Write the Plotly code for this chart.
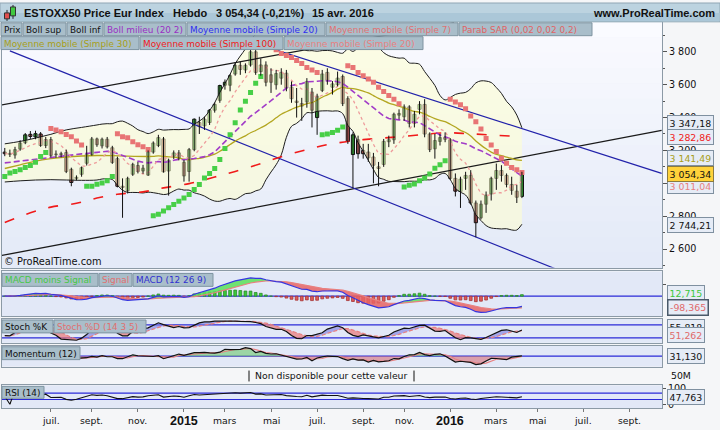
import numpy as np
import pandas as pd
import plotly.graph_objects as go

W, H = 720, 430
FONT = "DejaVu Sans, Verdana, sans-serif"
HFONT = "Liberation Sans, Arial, sans-serif"
FS = 8.9

# ---------------- data (weekly candles) ----------------
first_week = "2014-05-05"
opens = [3190, 3182, 3172, 3208, 3247, 3298, 3282, 3300, 3230, 3266,
         3174, 3180, 3187, 3085, 3030, 3055, 3122, 3175, 3270, 3228,
         3268, 3216, 3150, 2982, 2955, 3055, 3108, 3075, 3050, 3190,
         3230, 3270, 3075, 3165, 3185, 3128, 3072, 3205, 3370, 3350,
         3370, 3445, 3505, 3597, 3597, 3665, 3718, 3690, 3720, 3800,
         3680, 3720, 3660, 3600, 3640, 3670, 3585, 3500, 3485, 3495,
         3555, 3400, 3565, 3675, 3585, 3600, 3650, 3515, 3175, 3265,
         3200, 3190, 3160, 3100, 3115, 3253, 3265, 3415, 3405, 3465,
         3365, 3450, 3480, 3300, 3210, 3255, 3280, 3265, 3030, 2950,
         3030, 3048, 2880, 2790, 2873, 2935, 3030, 3078, 3048, 2993,
         2952, 2920]
highs = [3215, 3205, 3222, 3262, 3306, 3318, 3320, 3312, 3282, 3282,
         3200, 3192, 3205, 3095, 3048, 3102, 3228, 3282, 3278, 3278,
         3282, 3228, 3162, 3030, 3040, 3125, 3130, 3112, 3200, 3255,
         3295, 3282, 3150, 3200, 3202, 3142, 3215, 3395, 3405, 3405,
         3452, 3492, 3600, 3632, 3665, 3735, 3740, 3730, 3822, 3842,
         3760, 3742, 3700, 3690, 3700, 3690, 3620, 3580, 3520, 3640,
         3580, 3545, 3690, 3700, 3622, 3680, 3662, 3530, 3310, 3290,
         3240, 3240, 3185, 3130, 3270, 3290, 3430, 3450, 3480, 3475,
         3440, 3500, 3512, 3310, 3300, 3300, 3310, 3275, 3060, 3040,
         3070, 3080, 2895, 2895, 2950, 3040, 3120, 3110, 3060, 3040,
         2990, 3070]
lows = [3165, 3160, 3150, 3198, 3238, 3270, 3268, 3222, 3214, 3158,
        3155, 3158, 3062, 2982, 3018, 3040, 3108, 3168, 3222, 3212,
        3212, 3118, 2975, 2790, 2938, 3045, 3060, 3058, 3045, 3180,
        3220, 3065, 2925, 3148, 3140, 3010, 3010, 3195, 3300, 3325,
        3355, 3430, 3490, 3570, 3560, 3655, 3660, 3670, 3710, 3660,
        3655, 3590, 3550, 3570, 3600, 3560, 3490, 3400, 3380, 3460,
        3340, 3295, 3555, 3600, 3540, 3590, 3470, 3240, 2970, 3150,
        3150, 3130, 3000, 2982, 3100, 3220, 3240, 3390, 3380, 3340,
        3340, 3420, 3280, 3190, 3150, 3230, 3250, 3020, 2920, 2850,
        2960, 2870, 2672, 2780, 2820, 2895, 2960, 3010, 2975, 2930,
        2880, 2910]
closes = [3180, 3176, 3205, 3245, 3295, 3285, 3302, 3230, 3266, 3170,
          3178, 3175, 3072, 3005, 3036, 3095, 3175, 3270, 3235, 3268,
          3222, 3127, 2982, 2975, 3030, 3115, 3072, 3092, 3190, 3245,
          3278, 3070, 3140, 3185, 3150, 3045, 3205, 3390, 3345, 3390,
          3445, 3480, 3595, 3615, 3655, 3718, 3693, 3718, 3800, 3675,
          3720, 3615, 3615, 3668, 3675, 3580, 3515, 3492, 3470, 3620,
          3445, 3530, 3665, 3627, 3605, 3640, 3485, 3255, 3295, 3180,
          3180, 3155, 3110, 3090, 3255, 3265, 3420, 3425, 3465, 3365,
          3420, 3480, 3300, 3205, 3260, 3278, 3268, 3030, 2952, 3025,
          3048, 2880, 2760, 2873, 2928, 3030, 3078, 3048, 2993, 2957,
          2915, 3054.34]

# Parabolic SAR (0,02 0,02 0,2) dots, one per week
sar_values = [3042, 3062, 3072, 3082, 3096, 3108, 3128, 3163, 3187,
              3333, 3324, 3313, 3297, 3283, 3257, 3233,
              2982, 2982, 2994, 3002, 3016, 3042,
              3301, 3283, 3277, 3253, 3235, 3223, 3205,
              2802, 2811, 2831, 2851, 2871, 2891, 2911, 2932, 2962, 2992, 3032,
              3060, 3090, 3145, 3211, 3295, 3368, 3446, 3500, 3552, 3609, 3650,
              3842, 3831, 3812, 3790, 3778, 3766, 3748, 3729, 3705, 3690, 3675,
              3295, 3300, 3309, 3323, 3343,
              3716, 3705, 3675, 3655, 3635, 3615, 3585, 3559, 3535, 3511, 3484,
              2978, 2988, 2996, 3016, 3032, 3056, 3092, 3113, 3137,
              3512, 3494, 3478, 3454, 3410, 3375, 3330, 3273, 3233, 3193, 3152,
              3122, 3096, 3082, 3066]

# indicator values visible before their window is filled (keyed by week index)
boll_up_early = {0: 3240, 3: 3255, 6: 3275, 9: 3298, 12: 3325, 15: 3340, 18: 3355}
boll_lo_early = {0: 3008, 3: 3015, 6: 3020, 9: 3022, 12: 3020, 15: 3018, 18: 3020}
boll_mid_early = {0: 3124, 3: 3135, 6: 3148, 9: 3160, 12: 3172, 15: 3179, 18: 3188}
sma30_early = {0: 3090, 3: 3112, 6: 3135, 9: 3150, 12: 3160, 15: 3166, 18: 3169, 21: 3168, 24: 3165, 28: 3163}
sma100_read = {0: 2762, 5: 2820, 9: 2855, 14: 2878, 18: 2910, 22: 2933, 27: 2948, 31: 2972,
               36: 2998, 41: 3038, 45: 3072, 50: 3120, 54: 3162, 59: 3205, 63: 3235, 68: 3259,
               72: 3271, 77: 3283, 86: 3307, 91: 3301, 101: 3283}

# trend lines (date, value) pairs
trend_black_top = (["2014-04-28", "2016-01-09"], [3474, 3976])
trend_black_bottom = (["2014-04-28", "2016-10-19"], [2558, 3322])
trend_blue_steep = (["2014-05-12", "2016-05-26"], [3806, 2481])
trend_blue_flat = (["2015-04-05", "2016-10-19"], [3863, 3060])

price_ticks = [2600, 2800, 3000, 3200, 3400, 3600, 3800]
price_ticktext = ["2 600", "2 800", "3 000", "3 200", "3 400", "3 600", "3 800"]
price_minor = [2500, 2700, 2900, 3100, 3300, 3500, 3700, 3900]

month_ticks = ["2014-07-07", "2014-09-01", "2014-11-03", "2015-01-05", "2015-03-02", "2015-05-04",
               "2015-07-06", "2015-09-07", "2015-11-02", "2016-01-04", "2016-03-07", "2016-05-02",
               "2016-07-04", "2016-09-05"]
month_labels = ["juil.", "sept.", "nov.", "2015", "mars", "mai", "juil.", "sept.", "nov.",
                "2016", "mars", "mai", "juil.", "sept."]

last_labels = {"boll_up": "3 347,18", "sma100": "3 282,86", "sma30": "3 141,49", "close": "3 054,34",
               "sma7": "3 011,04", "boll_lo": "2 744,21"}
last_values = {"boll_up": 3347.18, "sma100": 3282.86, "sma30": 3141.49, "close": 3054.34,
               "sma7": 3011.04, "boll_lo": 2744.21}
macd_hist_last, macd_sig_last = 12.715, -98.365
stoch_k_last, stoch_d_last = 55.818, 51.262
mom_last, rsi_last = 31.130, 47.763

# ---------------- computations ----------------
n = len(closes)
dates = pd.date_range(first_week, periods=n, freq="7D")
O = np.array(opens, float)
Hh = np.array(highs, float)
L = np.array(lows, float)
C = np.array(closes, float)
cs = pd.Series(C)

sma20 = cs.rolling(20).mean()
sd20 = cs.rolling(20).std(ddof=0)
bb_up = sma20 + 2 * sd20
bb_lo = sma20 - 2 * sd20
sma30 = cs.rolling(30).mean()
sma7 = cs.rolling(7, min_periods=1).mean()


def joined(early, computed, start):
    keys = sorted(early)
    idx = keys + list(range(start, n))
    vals = [early[k] for k in keys] + list(computed.values[start:])
    return dates[idx], vals


sar = np.array(sar_values, float)
sar_below = sar < C

ema12 = cs.ewm(span=12, adjust=False).mean()
ema26 = cs.ewm(span=26, adjust=False).mean()
macd = (ema12 - ema26).values
signal = pd.Series(macd).ewm(span=9, adjust=False).mean().values
hist = macd - signal

hs, ls = pd.Series(Hh), pd.Series(L)
ll14 = ls.rolling(14, min_periods=1).min()
hh14 = hs.rolling(14, min_periods=1).max()
rawk = 100 * (cs - ll14) / (hh14 - ll14)
stk = rawk.rolling(3, min_periods=1).mean().values
std_ = pd.Series(stk).rolling(5, min_periods=1).mean().values

mom = (cs - cs.shift(12)).values
mom_sig = pd.Series(mom).rolling(3, min_periods=1).mean().values

delta = cs.diff()
gain = delta.clip(lower=0).fillna(0)
loss = (-delta.clip(upper=0)).fillna(0)
ag = gain.ewm(alpha=1 / 14, adjust=False).mean()
al = loss.ewm(alpha=1 / 14, adjust=False).mean()
rsi = (100 - 100 / (1 + ag / al.replace(0, np.nan))).fillna(50).values

# ---------------- figure ----------------
fig = go.Figure()
MS_DAY = 86400000.0

bx, bl = joined(boll_lo_early, bb_lo, 19)
bx2, bu = joined(boll_up_early, bb_up, 19)
fig.add_trace(go.Scatter(x=bx, y=bl, mode="lines", line=dict(color="#1c1c1c", width=1, shape="spline"),
                         xaxis="x", yaxis="y"))
fig.add_trace(go.Scatter(x=bx2, y=bu, mode="lines", line=dict(color="#1c1c1c", width=1, shape="spline"),
                         fill="tonexty", fillcolor="rgba(255,255,205,0.55)", xaxis="x", yaxis="y"))

for (tx, ty), col in [(trend_black_top, "#1a1a1a"), (trend_black_bottom, "#1a1a1a"),
                      (trend_blue_steep, "#2222AA"), (trend_blue_flat, "#2222AA")]:
    fig.add_trace(go.Scatter(x=pd.to_datetime(tx), y=ty, mode="lines", line=dict(color=col, width=1.2),
                             xaxis="x", yaxis="y"))

k100 = sorted(sma100_read)
fig.add_trace(go.Scatter(x=dates[k100], y=[sma100_read[k] for k in k100], mode="lines",
                         line=dict(color="#F01A1A", width=1.6, dash="10px,13px", shape="spline"),
                         xaxis="x", yaxis="y"))
sx, sv = joined(sma30_early, sma30, 29)
fig.add_trace(go.Scatter(x=sx, y=sv, mode="lines", line=dict(color="#B3A620", width=1.3, shape="spline"),
                         xaxis="x", yaxis="y"))
mx, mv = joined(boll_mid_early, sma20, 19)
fig.add_trace(go.Scatter(x=mx, y=mv, mode="lines", line=dict(color="#A23CC8", width=1.6, dash="6px,3px"),
                         xaxis="x", yaxis="y"))
fig.add_trace(go.Scatter(x=dates, y=sma7, mode="lines", line=dict(color="#EE9C9C", width=1.3, dash="3px,3px"),
                         xaxis="x", yaxis="y"))

fig.add_trace(go.Scatter(x=dates[sar_below], y=sar[sar_below], mode="markers",
                         marker=dict(symbol="square", size=5, color="#47CF47"), xaxis="x", yaxis="y"))
fig.add_trace(go.Scatter(x=dates[~sar_below], y=sar[~sar_below], mode="markers",
                         marker=dict(symbol="square", size=5, color="#E87474"), xaxis="x", yaxis="y"))

wx, wy = [], []
for d, h, l in zip(dates, Hh, L):
    wx += [d, d, None]
    wy += [l, h, None]
fig.add_trace(go.Scatter(x=wx, y=wy, mode="lines", line=dict(color="#111111", width=1), xaxis="x", yaxis="y"))

body_lo = np.minimum(O, C)
body_h = np.maximum(np.abs(C - O), 4)
upm = C >= O
for mask, col in [(upm, "#3FCF3F"), (~upm, "#E26A6A")]:
    fig.add_trace(go.Bar(x=dates[mask], y=body_h[mask], base=body_lo[mask], width=4.3 * MS_DAY,
                         marker=dict(color=col, line=dict(color="#111111", width=1)),
                         xaxis="x", yaxis="y"))

# MACD panel
fig.add_trace(go.Bar(x=dates, y=hist, width=3.8 * MS_DAY,
                     marker=dict(color=["#3ACB3A" if v >= 0 else "#E05A5A" for v in hist],
                                 line=dict(color=["#2E8A2E" if v >= 0 else "#A53535" for v in hist], width=0.8)),
                     xaxis="x2", yaxis="y2"))
fig.add_trace(go.Scatter(x=dates, y=signal, mode="lines", line=dict(width=0), xaxis="x2", yaxis="y2"))
fig.add_trace(go.Scatter(x=dates, y=np.maximum(macd, signal), mode="lines", line=dict(width=0),
                         fill="tonexty", fillcolor="rgba(90,225,90,0.85)", xaxis="x2", yaxis="y2"))
fig.add_trace(go.Scatter(x=dates, y=signal, mode="lines", line=dict(width=0), xaxis="x2", yaxis="y2"))
fig.add_trace(go.Scatter(x=dates, y=np.minimum(macd, signal), mode="lines", line=dict(width=0),
                         fill="tonexty", fillcolor="rgba(232,100,100,0.85)", xaxis="x2", yaxis="y2"))
fig.add_trace(go.Scatter(x=dates, y=signal, mode="lines", line=dict(color="#E88080", width=1.2),
                         xaxis="x2", yaxis="y2"))
fig.add_trace(go.Scatter(x=dates, y=macd, mode="lines", line=dict(color="#3535E0", width=1.2),
                         xaxis="x2", yaxis="y2"))

# Stochastic panel
fig.add_trace(go.Scatter(x=dates, y=std_, mode="lines", line=dict(width=0), xaxis="x3", yaxis="y3"))
fig.add_trace(go.Scatter(x=dates, y=np.maximum(stk, std_), mode="lines", line=dict(width=0),
                         fill="tonexty", fillcolor="rgba(120,120,225,0.6)", xaxis="x3", yaxis="y3"))
fig.add_trace(go.Scatter(x=dates, y=std_, mode="lines", line=dict(width=0), xaxis="x3", yaxis="y3"))
fig.add_trace(go.Scatter(x=dates, y=np.minimum(stk, std_), mode="lines", line=dict(width=0),
                         fill="tonexty", fillcolor="rgba(235,120,120,0.7)", xaxis="x3", yaxis="y3"))
fig.add_trace(go.Scatter(x=dates, y=std_, mode="lines", line=dict(color="#E88080", width=1.2, dash="4px,2px"),
                         xaxis="x3", yaxis="y3"))
fig.add_trace(go.Scatter(x=dates, y=stk, mode="lines", line=dict(color="#111111", width=1.2),
                         xaxis="x3", yaxis="y3"))

# Momentum panel
fig.add_trace(go.Scatter(x=dates, y=np.where(np.isnan(mom), np.nan, np.maximum(mom, 0)), mode="lines",
                         line=dict(width=0), fill="tozeroy", fillcolor="rgba(110,200,110,0.6)",
                         xaxis="x4", yaxis="y4"))
fig.add_trace(go.Scatter(x=dates, y=np.where(np.isnan(mom), np.nan, np.minimum(mom, 0)), mode="lines",
                         line=dict(width=0), fill="tozeroy", fillcolor="rgba(215,110,120,0.6)",
                         xaxis="x4", yaxis="y4"))
fig.add_trace(go.Scatter(x=dates, y=mom_sig, mode="lines", line=dict(color="#E88080", width=1.1),
                         xaxis="x4", yaxis="y4"))
fig.add_trace(go.Scatter(x=dates, y=mom, mode="lines", line=dict(color="#111111", width=1.2),
                         xaxis="x4", yaxis="y4"))

# RSI panel
fig.add_trace(go.Scatter(x=dates, y=rsi, mode="lines", line=dict(color="#111111", width=1.1),
                         xaxis="x6", yaxis="y6"))

# ---------------- layout ----------------
XDOM = [2 / W, 662 / W]
XRANGE = ["2014-05-01 05:00", "2016-10-19 12:00"]
AXC = "#8C9AA6"


def ydom(top, bot):
    return [1 - bot / H, 1 - top / H]


def xax(anchor, show=False):
    d = dict(domain=XDOM, range=XRANGE, type="date", anchor=anchor, showgrid=False, zeroline=False,
             showline=True, mirror=True, linecolor=AXC, linewidth=1, fixedrange=True, showticklabels=False)
    if show:
        d.update(tickmode="array", tickvals=month_ticks, ticks="outside", ticklen=3, tickcolor="#777")
    if anchor != "y":
        d["matches"] = "x"
    return d


def yax(top, bot, rng, **kw):
    d = dict(domain=ydom(top, bot), range=rng, side="right", showgrid=False, zeroline=False,
             showline=True, mirror=True, linecolor=AXC, linewidth=1, fixedrange=True,
             showticklabels=False, ticks="")
    d.update(kw)
    return d


MAIN = (19, 267)
MACD_P = (271, 316)
STO_P = (319, 343)
MOM_P = (346, 367)
VOL_P = (369, 384)
RSI_P = (386, 409)

layout = dict(
    width=W, height=H, margin=dict(l=0, r=0, t=0, b=0),
    paper_bgcolor="#F5F6F8", plot_bgcolor="#E2E8F7",
    showlegend=False, hovermode=False, barmode="overlay",
    font=dict(family=FONT, size=FS, color="#111"),
    xaxis=xax("y"), xaxis2=xax("y2"), xaxis3=xax("y3"), xaxis4=xax("y4"), xaxis5=xax("y5"),
    xaxis6=xax("y6", show=True),
    yaxis=yax(*MAIN, [2487.4, 3982.7], showticklabels=True, tickmode="array", tickvals=price_ticks,
              ticktext=price_ticktext, ticks="outside", ticklen=4, tickcolor="#555",
              tickfont=dict(family=FONT, size=9.6, color="#111"),
              minor=dict(tickmode="array", tickvals=price_minor, ticks="outside", ticklen=2, tickcolor="#555")),
    yaxis2=yax(*MACD_P, [-167, 208], ticks="outside", ticklen=3, tickvals=[100], tickcolor="#555"),
    yaxis3=yax(*STO_P, [-3.1, 107.7]),
    yaxis4=yax(*MOM_P, [-819, 819]),
    yaxis5=yax(*VOL_P, [0, 1]),
    yaxis6=yax(*RSI_P, [-25, 118.75], showticklabels=True, tickmode="array", tickvals=[0, 100],
               ticktext=["0", "100"], ticks="outside", ticklen=3, tickcolor="#555",
               tickfont=dict(family=FONT, size=9.6, color="#111")),
)

shapes = []
annotations = []


def rect(x0, y0, x1, y1, fill, line=None, lw=1, layer="above"):
    shapes.append(dict(type="rect", xref="paper", yref="paper", x0=x0 / W, x1=x1 / W,
                       y0=1 - y1 / H, y1=1 - y0 / H, fillcolor=fill, layer=layer,
                       line=dict(color=line or fill, width=lw if line else 0)))


def text(x, y, s, color="#111", size=FS, anchor="left", bold=False, family=FONT):
    annotations.append(dict(xref="paper", yref="paper", x=x / W, y=1 - y / H, text="<b>%s</b>" % s if bold else s,
                            showarrow=False, xanchor=anchor, yanchor="middle", borderpad=0,
                            font=dict(family=family, size=size, color=color)))


nb = 16
for k in range(nb):
    t = k / (nb - 1)
    r = int(250 - 22 * t); g = int(251 - 17 * t); b = int(255 - 7 * t)
    y0 = MAIN[0] + (MAIN[1] - MAIN[0]) * k / nb
    y1 = MAIN[0] + (MAIN[1] - MAIN[0]) * (k + 1) / nb + 0.5
    rect(2, y0, 662, y1, "rgb(%d,%d,%d)" % (r, g, b), layer="below")


def hline(yref, val, color="#2B2BD8", w=1.2):
    shapes.append(dict(type="line", xref="paper", yref=yref, x0=2 / W, x1=662 / W, y0=val, y1=val,
                       line=dict(color=color, width=w), layer="below"))


hline("y2", 0)
hline("y3", 80)
hline("y3", 20)
hline("y4", 0)
hline("y6", 70)
hline("y6", 30)

# header bar
rect(0, 0, 720, 19, "#BCD3E0", "#8FA6B4")
rect(0.5, 10, 719.5, 18.5, "#ABC7D8")
shapes.append(dict(type="line", xref="paper", yref="paper", x0=7 / W, x1=7 / W, y0=1 - 18 / H, y1=1 - 7 / H,
                   line=dict(color="#222", width=1)))
shapes.append(dict(type="line", xref="paper", yref="paper", x0=13 / W, x1=13 / W, y0=1 - 16 / H, y1=1 - 2 / H,
                   line=dict(color="#222", width=1)))
rect(4.5, 10, 9.5, 16, "#E05050", "#333")
rect(10.5, 4, 15.5, 13, "#40C840", "#333")
text(23, 10, "ESTOXX50 Price Eur Index", bold=True, size=11, family=HFONT)
text(172, 10, "Hebdo", bold=True, size=11, family=HFONT)
text(215, 10, "3 054,34 (-0,21%)", bold=True, size=11, family=HFONT)
text(311, 10, "15 avr. 2016", bold=True, size=11, family=HFONT)
text(716, 10, "www.ProRealTime.com", bold=True, size=11, anchor="right", family=HFONT)

LEG_BG, LEG_BD = "#A9BECA", "#7E94A1"


def legbox(x0, x1, y0, y1, s, color):
    rect(x0, y0, x1, y1, LEG_BG, LEG_BD)
    text(x0 + 2, (y0 + y1) / 2 + 0.5, s, color=color)


legbox(1, 22, 20, 33, "Prix", "#111")
legbox(23, 66, 20, 33, "Boll sup", "#111")
legbox(67, 103, 20, 33, "Boll inf", "#111")
legbox(104, 186, 20, 33, "Boll milieu (20 2)", "#9A2FC4")
legbox(187, 325, 20, 33, "Moyenne mobile (Simple 20)", "#2F2FF0")
legbox(326, 458, 20, 33, "Moyenne mobile (Simple 7)", "#E07272")
legbox(459, 592, 20, 33, "Parab SAR (0,02 0,02 0,2)", "#E06464")
legbox(1, 139, 34, 47, "Moyenne mobile (Simple 30)", "#A89E18")
legbox(140, 283, 34, 47, "Moyenne mobile (Simple 100)", "#F01A1A")
legbox(284, 423, 34, 47, "Moyenne mobile (Simple 20)", "#E88080")

legbox(2, 98, 273, 286, "MACD moins Signal", "#45C845")
legbox(99, 132, 273, 286, "Signal", "#E07070")
legbox(133, 213, 273, 286, "MACD (12 26 9)", "#3030D0")
legbox(2, 53, 320, 333, "Stoch %K", "#111")
legbox(54, 146, 320, 333, "Stoch %D (14 3 5)", "#E07070")
legbox(2, 80, 347, 360, "Momentum (12)", "#111")
legbox(2, 44, 387, 399, "RSI (14)", "#111")

text(3, 261, "© ProRealTime.com", size=9.8)

text(331, 376.5, "Non disponible pour cette valeur", size=9.3)
annotations[-1]["xanchor"] = "center"
for xv in (249, 414):
    shapes.append(dict(type="line", xref="paper", yref="paper", x0=xv / W, x1=xv / W,
                       y0=1 - 382 / H, y1=1 - 371 / H, line=dict(color="#111", width=1)))
text(670, 376.5, "50M", size=9.3)

for d, lab in zip(month_ticks, month_labels):
    is_year = lab.isdigit()
    annotations.append(dict(xref="x6", yref="paper", x=d, y=1 - 421.5 / H, showarrow=False,
                            xanchor="center", yanchor="middle",
                            text="<b>%s</b>" % lab if is_year else lab,
                            font=dict(family=HFONT if is_year else FONT, size=12.5 if is_year else 9.3,
                                      color="#111")))


def vbox(yref, val, s, color, bg="#E6ECF6", bd="#7F90A0", shift=0, bw=1):
    annotations.append(dict(xref="paper", yref=yref, x=667 / W, y=val, yshift=shift, text=s,
                            showarrow=False, xanchor="left", yanchor="middle",
                            font=dict(family=FONT, size=9.4, color=color),
                            bgcolor=bg, bordercolor=bd, borderwidth=bw, borderpad=1.5))


vbox("y", last_values["boll_up"], last_labels["boll_up"], "#111", shift=3)
vbox("y", last_values["sma100"], last_labels["sma100"], "#F01A1A")
vbox("y", last_values["sma30"], last_labels["sma30"], "#A89E18", shift=2)
vbox("y", last_values["sma7"], last_labels["sma7"], "#E88080", shift=-5)
vbox("y", last_values["close"], last_labels["close"], "#111", bg="#FFD23A", bd="#8A7A40")
vbox("y", last_values["boll_lo"], last_labels["boll_lo"], "#111")

vbox("y2", macd_hist_last, "12,715", "#3CC83C", shift=2)
vbox("y2", macd_sig_last, "-98,365", "#E06A6A", bd="#4A5A6A", bw=1.5)
vbox("y3", stoch_k_last, "55,818", "#111", shift=3)
vbox("y3", stoch_d_last, "51,262", "#E06A6A", shift=-4)
vbox("y4", mom_last, "31,130", "#111")
vbox("y6", rsi_last, "47,763", "#111")

layout["shapes"] = shapes
layout["annotations"] = annotations
fig.update_layout(**layout)
fig.write_html("out.html", config={"displayModeBar": False, "staticPlot": True},
               post_script="document.body.style.margin='0px';document.body.style.overflow='hidden';")
